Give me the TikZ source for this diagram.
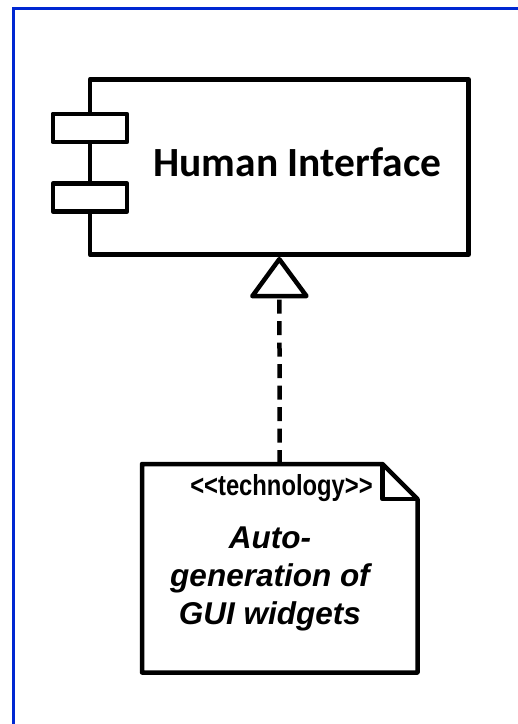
\documentclass[tikz,border=0pt]{standalone}
\usepackage{fontspec}
\setmainfont{Liberation Sans}
\newfontfamily\compfont{Carlito}
\newfontfamily\stereofont[Ligatures=TeXOff,FakeStretch=0.82]{Liberation Sans}
\usetikzlibrary{arrows.meta, positioning}
\definecolor{frameblue}{RGB}{0,40,210}

\begin{document}
\begin{tikzpicture}[x=1pt,y=-1pt,line width=4.5pt,line join=round,
      >={Triangle[open,length=43pt,width=62pt,round]},
      compbox/.style={draw,fill=white,minimum width=378.7pt,minimum height=175.4pt,inner sep=0pt},
      portbox/.style={draw,fill=white,minimum width=74.3pt,minimum height=28pt,inner sep=0pt},
      notebox/.style={minimum width=275.5pt,minimum height=208.5pt,inner sep=0pt,outer sep=0pt},
      realize/.style={->,dash pattern=on 14pt off 7.5pt}]
      \useasboundingbox (0,0) rectangle (518,724);
      \draw[frameblue,line width=3.3pt,line join=miter] (13.3,724) -- (13.3,8.7) -- (518,8.7);
      % component
      \node[compbox] (comp) at (279.3,167) {};
      \node[portbox] (port_1) at (89.9,127.9) {};
      \node[portbox] (port_2) at (89.9,197.5) {};
      \node[font=\compfont\bfseries\fontsize{41.5}{50}\selectfont, anchor=base] (comp_name) at (297.5,176.7) {Human Interface};
      % note
      \node[notebox] (note) at (279.75,568.25) {};
      \draw[fill=white] (note.north west) -- ([xshift=-35pt]note.north east) -- ([yshift=-35pt]note.north east)
            -- (note.south east) -- (note.south west) -- cycle;
      \draw ([xshift=-35pt]note.north east) -- ++(0,35) -- ([yshift=-35pt]note.north east);
      \node[font=\stereofont\bfseries\fontsize{29}{34}\selectfont, anchor=base] (stereo) at (281.5,495.5) {<<technology>>};
      \node[font=\bfseries\itshape\fontsize{31.5}{37.7}\selectfont, align=center] (note_text) at (270,579) {Auto-\\generation of\\GUI widgets};
      \draw[realize] (note.north) -- (comp.south);
\end{tikzpicture}
\end{document}
